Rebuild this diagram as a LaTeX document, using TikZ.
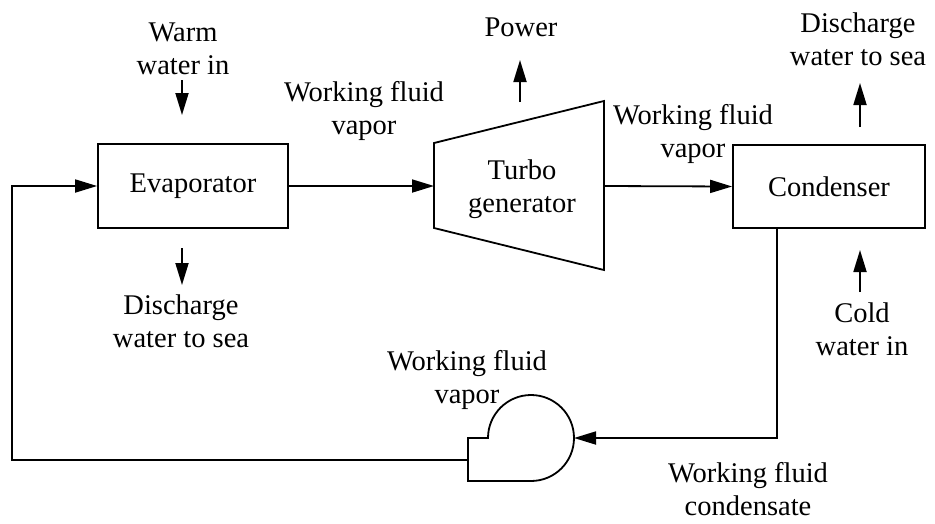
\documentclass[tikz,border=0pt]{standalone}
\usepackage{fontspec}
\setmainfont{Liberation Serif}
\usetikzlibrary{arrows.meta}
\begin{document}
\begin{tikzpicture}[x=1pt,y=-1pt, line width=1.8pt,
  >={Triangle[length=22pt,width=13pt]},
  lbl/.style={font=\fontsize{28.5}{33}\selectfont, align=center, inner sep=0pt, anchor=base},
  blk/.style={draw, rectangle, inner sep=0pt, font=\fontsize{28.5}{33}\selectfont}]
\useasboundingbox (0,0) rectangle (935,523);

% blocks
\node[blk, minimum width=190pt, minimum height=84pt] (evap) at (193,186) {Evaporator};
\node[blk, minimum width=192pt, minimum height=83pt] (cond) at (829,186.5) {Condenser};

% turbine
\coordinate (tin) at (434,186);
\coordinate (tout) at (604,186);
\draw (434,143) -- (604,101) -- (604,270) -- (434,228) -- cycle;
\node[lbl] (turbo) at (522,212) {Turbo\\generator};

% pump
\coordinate (pumpin) at (574,438);
\coordinate (pumpout) at (468,460);
\draw (468,481) -- (468,438) -- (488,438) arc[start angle=180, end angle=450, radius=43] -- cycle;

% main loop
\coordinate (cb) at (777,228);
\coordinate (lc) at (12,460);
\draw[->] (evap.east) -- (tin);
\draw[->] (tout) -- (cond.west);
\draw[->] (cb) |- (pumpin);
\draw[->] (pumpout) -- (lc) |- (evap.west);

% labels (anchor = baseline of last line)
\node[lbl] (warm) at (183,74) {Warm\\water in};
\node[lbl] (dis1) at (181,347) {Discharge\\water to sea};
\node[lbl] (wfv1) at (364,134) {Working fluid\\vapor};
\node[lbl] (power) at (521,36) {Power};
\node[lbl] (wfv2) at (693,157) {Working fluid\\vapor};
\node[lbl] (dis2) at (858,65) {Discharge\\water to sea};
\node[lbl] (cold) at (862,355) {Cold\\water in};
\node[lbl] (wfv3) at (467,403) {Working fluid\\vapor};
\node[lbl] (cond2) at (748,515) {Working fluid\\condensate};

% side arrows
\coordinate (a1s) at (182,80);  \coordinate (a1e) at (182,115);
\coordinate (a2s) at (182,248); \coordinate (a2e) at (182,285);
\coordinate (a3s) at (520,102); \coordinate (a3e) at (520,60);
\coordinate (a4s) at (860,127); \coordinate (a4e) at (860,83);
\coordinate (a5s) at (860,292); \coordinate (a5e) at (860,250);
\draw[->] (a1s) -- (a1e);
\draw[->] (a2s) -- (a2e);
\draw[->] (a3s) -- (a3e);
\draw[->] (a4s) -- (a4e);
\draw[->] (a5s) -- (a5e);
\end{tikzpicture}
\end{document}
